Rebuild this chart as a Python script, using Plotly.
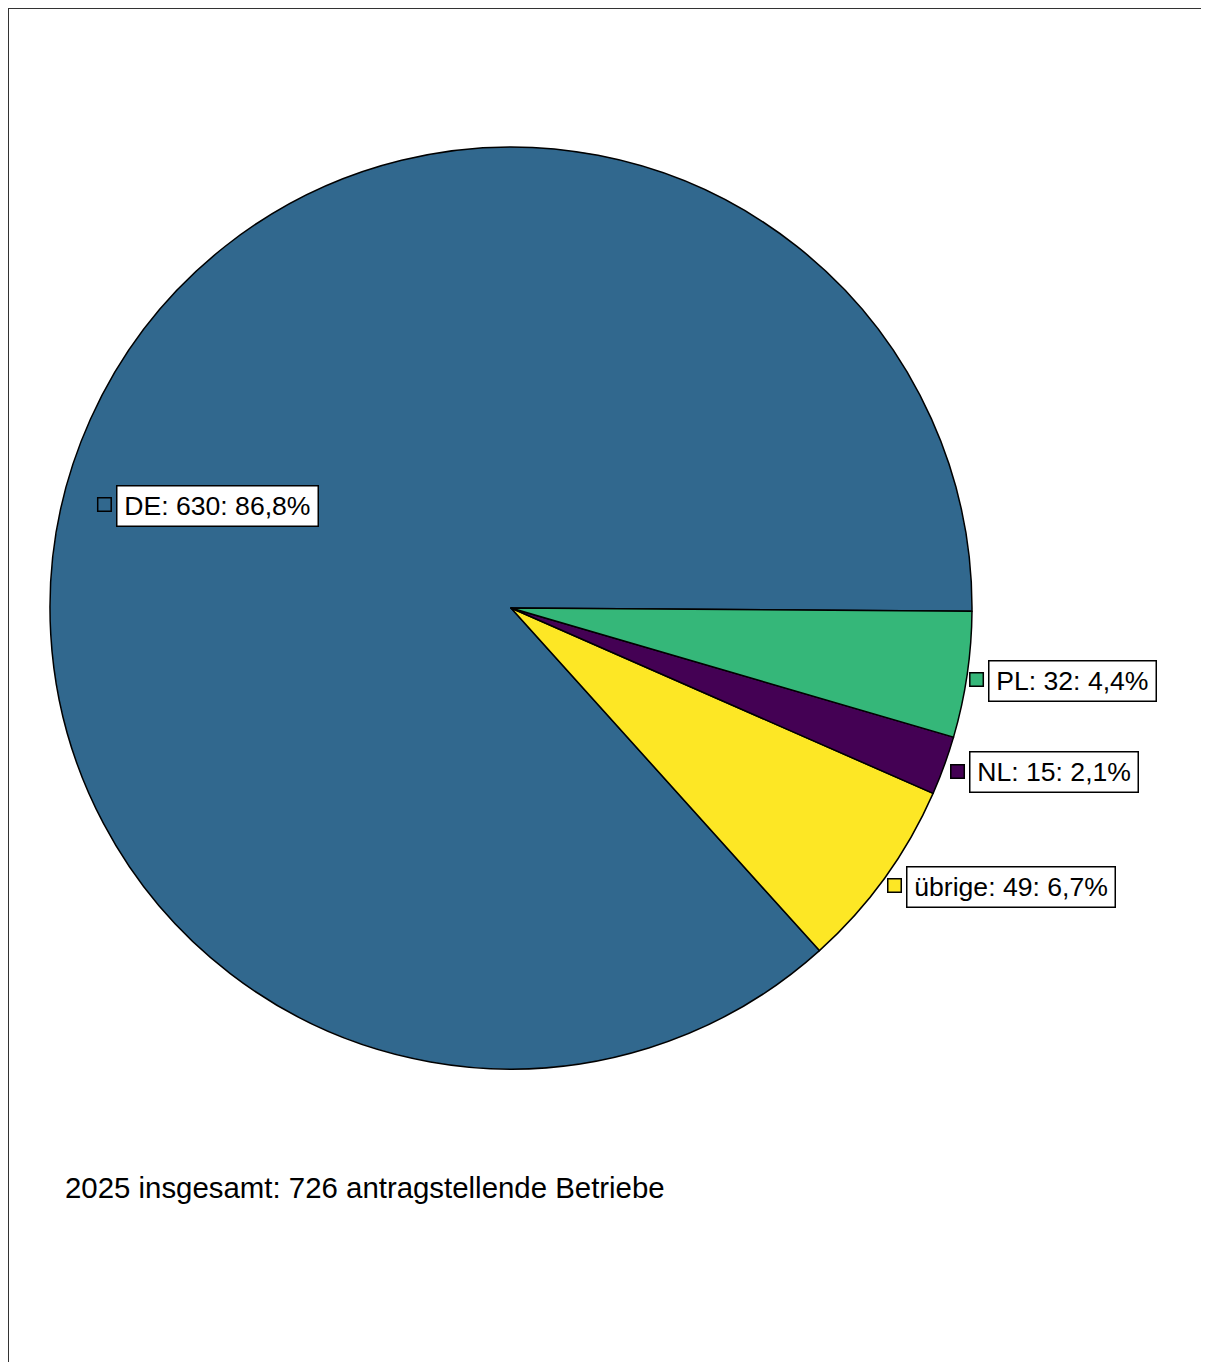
import math
import plotly.graph_objects as go

# ---- data ----
categories = ["DE", "übrige", "NL", "PL"]
counts = [630, 49, 15, 32]
percent_labels = ["86,8%", "6,7%", "2,1%", "4,4%"]
colors = ["#31688e", "#fde725", "#440154", "#35b779"]
footer_text = "2025 insgesamt: 726 antragstellende Betriebe"

# ---- layout constants (pixels, figure coordinates) ----
W, H = 1201, 1354
CX, CY, R = 503, 600, 461
START_DEG = -0.4          # first slice starts slightly below 3 o'clock, going counter-clockwise
label_dist = [419.5, 473.4, 475.5, 471.0]   # distance of label key from centre
label_nudge = [9.92, -0.04, -0.12, -0.40]   # angular nudge (deg) of label from slice mid-angle
LABEL_FONT = 26.6
KEY = 13.5
FONT = "Liberation Sans, Arial, sans-serif"

total = sum(counts)
first_span = counts[0] / total * 360
# plotly: with counterclockwise direction the first slice spans [rotation, rotation+v0] clockwise
rotation = (90 - START_DEG) - first_span

fig = go.Figure()

fig.add_trace(go.Pie(
    labels=categories,
    values=counts,
    sort=False,
    direction="counterclockwise",
    rotation=rotation,
    marker=dict(colors=colors, line=dict(color="black", width=1.5)),
    textinfo="none",
    hoverinfo="label+value+percent",
    showlegend=False,
    domain=dict(x=[(CX - R) / W, (CX + R) / W], y=[1 - (CY + R) / H, 1 - (CY - R) / H]),
))

annotations = []
shapes = []
cum = 0
for i, (cat, v, p) in enumerate(zip(categories, counts, percent_labels)):
    mid = START_DEG + (cum + v / 2) / total * 360 + label_nudge[i]
    cum += v
    a = math.radians(mid)
    x = CX + label_dist[i] * math.cos(a)
    y = CY - label_dist[i] * math.sin(a)
    shapes.append(dict(
        type="rect", xref="x", yref="y", layer="above",
        x0=x - KEY / 2, x1=x + KEY / 2, y0=y - KEY / 2, y1=y + KEY / 2,
        fillcolor=colors[i], line=dict(color="black", width=1.5),
    ))
    annotations.append(dict(
        x=x + 11.5, y=y + 1, xref="x", yref="y", xanchor="left", yanchor="middle",
        text="\u200a" + f"{cat}: {v}: {p}" + "\u200a",
        showarrow=False, bgcolor="white", bordercolor="black", borderwidth=1.5,
        borderpad=4.5, font=dict(family=FONT, size=LABEL_FONT, color="black"),
    ))

annotations.append(dict(
    x=55, y=1179, xref="x", yref="y", xanchor="left", yanchor="middle",
    text=footer_text, showarrow=False,
    font=dict(family=FONT, size=29.4, color="black"),
))

shapes += [
    dict(type="line", xref="x", yref="y", x0=0, y0=0, x1=W, y1=0,
         line=dict(color="#333333", width=2)),
    dict(type="line", xref="x", yref="y", x0=0, y0=0, x1=0, y1=H,
         line=dict(color="#333333", width=2)),
]

# invisible trace to establish the pixel-coordinate axes
fig.add_trace(go.Scatter(x=[0, W], y=[0, H], mode="markers", marker=dict(opacity=0),
                         hoverinfo="skip", showlegend=False))

fig.update_layout(
    width=W, height=H,
    margin=dict(l=0, r=0, t=0, b=0),
    paper_bgcolor="white", plot_bgcolor="rgba(0,0,0,0)",
    xaxis=dict(range=[0, W], visible=False, fixedrange=True),
    yaxis=dict(range=[H, 0], visible=False, fixedrange=True),
    annotations=annotations,
    shapes=shapes,
)

fig.write_html("out.html")
